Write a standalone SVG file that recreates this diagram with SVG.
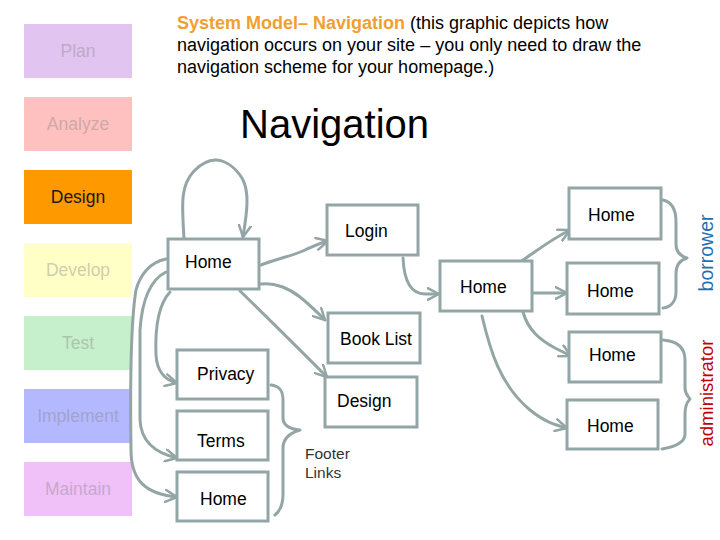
<svg xmlns="http://www.w3.org/2000/svg" width="720" height="540" viewBox="0 0 720 540">
<style>
.side{font-family:"Liberation Sans",Arial,sans-serif;font-size:17.5px;text-anchor:middle;fill:#808080;fill-opacity:0.4}
.box{fill:#fff;stroke:#94a5a6;stroke-width:3}
.lbl{font-family:"Liberation Sans",Arial,sans-serif;font-size:17.5px;fill:#000}
.con{fill:none;stroke:#94a5a6;stroke-width:3;stroke-linecap:round;stroke-linejoin:round}
.title{font-family:"Liberation Sans",Arial,sans-serif;font-size:18px;fill:#000}
</style>
<defs>
<marker id="arr" viewBox="0 0 14 14" refX="12.5" refY="7" markerWidth="14" markerHeight="14" orient="auto" markerUnits="userSpaceOnUse">
<path d="M1,1 L12.5,7 L1,13" fill="none" stroke="#94a5a6" stroke-width="2.5" stroke-linecap="round" stroke-linejoin="round"/>
</marker>
</defs>
<rect width="720" height="540" fill="#fff"/>

<g id="sidebar">
<g id="plan"><rect x="24" y="24" width="108" height="54" fill="#e2c4f0"/><text class="side" x="78" y="57">Plan</text></g>
<g id="analyze"><rect x="24" y="97" width="108" height="54" fill="#ffc0c0"/><text class="side" x="78" y="130">Analyze</text></g>
<g id="design-phase"><rect x="24" y="170" width="108" height="54" fill="#ff9900"/><text class="side" x="78" y="203" style="fill:#1a1a1a;fill-opacity:1">Design</text></g>
<g id="develop"><rect x="24" y="243" width="108" height="54" fill="#ffffc6"/><text class="side" x="78" y="276">Develop</text></g>
<g id="test"><rect x="24" y="316" width="108" height="54" fill="#c6efcc"/><text class="side" x="78" y="349">Test</text></g>
<g id="implement"><rect x="24" y="389" width="108" height="54" fill="#b4b8ff"/><text class="side" x="78" y="422">Implement</text></g>
<g id="maintain"><rect x="24" y="462" width="108" height="54" fill="#f0c0f8"/><text class="side" x="78" y="495">Maintain</text></g>
</g>

<g id="heading">
<text class="title" x="177" y="29"><tspan font-weight="bold" fill="#f0a030">System Model– Navigation</tspan> (this graphic depicts how</text>
<text class="title" x="177" y="51">navigation occurs on your site – you only need to draw the</text>
<text class="title" x="177" y="73">navigation scheme for your homepage.)</text>
<text x="240" y="138" font-family="Liberation Sans, Arial, sans-serif" font-size="40" fill="#000">Navigation</text>
</g>

<g id="connectors">
<path class="con" marker-end="url(#arr)" d="M184,238 C182,205 180,186 194,171 C202,163 208,160 215,160 C225,160 235,167 242,178 C250,192 247,212 243,237"/>
<path class="con" marker-end="url(#arr)" d="M261,265 C280,258 295,255 305,250 C314,246 320,243 328,241"/>
<path class="con" marker-end="url(#arr)" d="M261,284 C275,282 290,289 300,297 C310,305 317,312 325,320"/>
<path class="con" marker-end="url(#arr)" d="M240,291 C265,315 295,345 327,377"/>
<path class="con" marker-end="url(#arr)" d="M403,258 C404,280 410,294 425,294 L439,294"/>
<path class="con" marker-end="url(#arr)" d="M520,262 C535,252 550,240 570,230"/>
<path class="con" marker-end="url(#arr)" d="M533,293 L567,293"/>
<path class="con" marker-end="url(#arr)" d="M523,312 C528,330 540,340 555,348 L571,356"/>
<path class="con" marker-end="url(#arr)" d="M482,316 C490,350 500,385 530,410 C545,422 555,425 567,428"/>
<path class="con" marker-end="url(#arr)" d="M166,259 C150,262 140,275 136,290 C131,320 130,380 131,450 C131,480 145,494 177,497"/>
<path class="con" marker-end="url(#arr)" d="M166,272 C150,280 142,300 140,330 L140,420 C141,442 155,453 177,458"/>
<path class="con" marker-end="url(#arr)" d="M170,292 C158,305 155,330 156,355 C157,372 165,380 177,383"/>
<path class="con" d="M663,200 C672,202 676,210 676,222 L676,244 C676,252 680,256 687,258 C680,260 676,265 676,274 L676,292 C676,302 670,307 663,308"/>
<path class="con" d="M663,340 C676,341 685,346 685,360 L685,388 C685,394 688,396 690,399 C687,402 685,406 685,414 L685,434 C685,443 674,447 662,449"/>
<path class="con" d="M271,385 C279,386 283,390 283,400 L283,418 C283,425 290,429 300,430 C290,433 283,438 283,448 L283,494 C283,505 280,511 275,515"/>
</g>

<g id="node-home-main"><rect class="box" x="168" y="239" width="91" height="50"/><text class="lbl" x="185" y="268">Home</text></g>
<g id="node-login"><rect class="box" x="327" y="205" width="91" height="50"/><text class="lbl" x="345" y="237">Login</text></g>
<g id="node-booklist"><rect class="box" x="328" y="313" width="92" height="50"/><text class="lbl" x="340" y="345">Book List</text></g>
<g id="node-design"><rect class="box" x="325" y="377" width="92" height="50"/><text class="lbl" x="337" y="407">Design</text></g>
<g id="node-home-center"><rect class="box" x="440" y="261" width="92" height="50"/><text class="lbl" x="460" y="293">Home</text></g>
<g id="node-home-r1"><rect class="box" x="569" y="188" width="92" height="51"/><text class="lbl" x="588" y="221">Home</text></g>
<g id="node-home-r2"><rect class="box" x="567" y="263" width="92" height="51"/><text class="lbl" x="587" y="297">Home</text></g>
<g id="node-home-r3"><rect class="box" x="569" y="332" width="92" height="50"/><text class="lbl" x="589" y="361">Home</text></g>
<g id="node-home-r4"><rect class="box" x="567" y="400" width="91" height="49"/><text class="lbl" x="587" y="432">Home</text></g>
<g id="node-privacy"><rect class="box" x="177" y="350" width="91" height="49"/><text class="lbl" x="197" y="380">Privacy</text></g>
<g id="node-terms"><rect class="box" x="177" y="411" width="91" height="49"/><text class="lbl" x="197" y="447">Terms</text></g>
<g id="node-home-footer"><rect class="box" x="177" y="472" width="91" height="49"/><text class="lbl" x="200" y="505">Home</text></g>

<g id="labels">
<text x="305" y="459" font-family="Liberation Sans, Arial, sans-serif" font-size="15.5" fill="#333">Footer</text>
<text x="305" y="478" font-family="Liberation Sans, Arial, sans-serif" font-size="15.5" fill="#333">Links</text>
<text transform="translate(713,253) rotate(-90)" text-anchor="middle" font-family="Liberation Sans, Arial, sans-serif" font-size="19.5" fill="#1f6fb0">borrower</text>
<text transform="translate(713,393) rotate(-90)" text-anchor="middle" font-family="Liberation Sans, Arial, sans-serif" font-size="18.5" fill="#c00000">administrator</text>
</g>
</svg>
